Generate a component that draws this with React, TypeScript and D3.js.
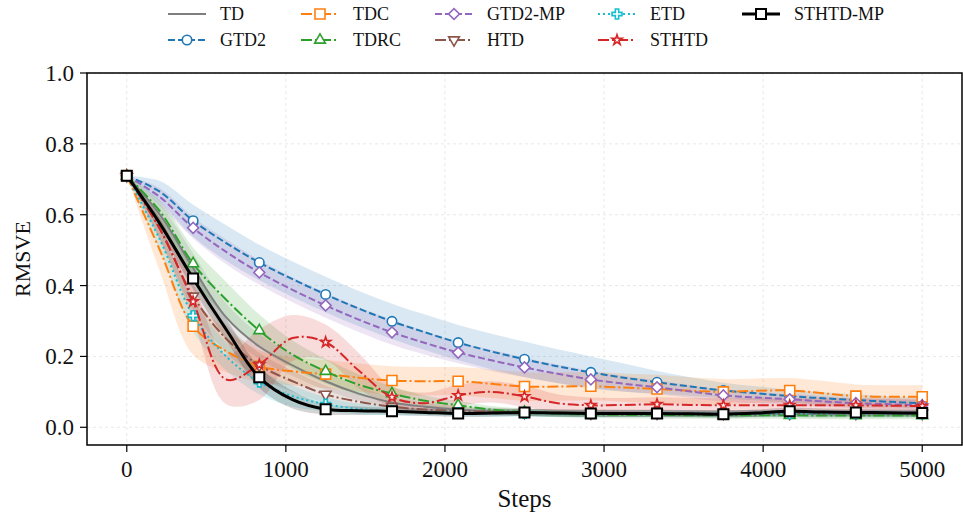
import * as d3 from "d3";

// steps where the curves were sampled (markers sit on every second one)
const STEPS = [0, 208, 417, 625, 833, 1042, 1250, 1458, 1667, 1875, 2083, 2292, 2500, 2708, 2917, 3125, 3333, 3542, 3750, 3958, 4167, 4375, 4583, 4792, 5000];

const TD = [0.71, 0.6, 0.45, 0.31, 0.228, 0.175, 0.13, 0.095, 0.07, 0.058, 0.05, 0.045, 0.042, 0.04, 0.04, 0.039, 0.039, 0.038, 0.038, 0.038, 0.038, 0.037, 0.037, 0.037, 0.037];
const TD_STD = [0, 0.03, 0.04, 0.04, 0.035, 0.03, 0.025, 0.02, 0.015, 0.012, 0.01, 0.01, 0.01, 0.01, 0.01, 0.01, 0.01, 0.01, 0.01, 0.01, 0.01, 0.01, 0.01, 0.01, 0.01];

const GTD2 = [0.71, 0.665, 0.583, 0.52, 0.465, 0.418, 0.375, 0.335, 0.299, 0.268, 0.239, 0.214, 0.192, 0.172, 0.155, 0.14, 0.127, 0.115, 0.104, 0.096, 0.088, 0.082, 0.077, 0.072, 0.068];
const GTD2_STD = [0, 0.03, 0.045, 0.05, 0.05, 0.05, 0.05, 0.05, 0.05, 0.05, 0.05, 0.05, 0.05, 0.048, 0.045, 0.04, 0.032, 0.026, 0.022, 0.02, 0.018, 0.017, 0.016, 0.015, 0.015];

const TDC = [0.71, 0.5, 0.285, 0.215, 0.172, 0.158, 0.15, 0.14, 0.132, 0.13, 0.13, 0.123, 0.115, 0.115, 0.116, 0.112, 0.108, 0.103, 0.1, 0.103, 0.104, 0.096, 0.088, 0.086, 0.086];
const TDC_STD = [0, 0.06, 0.08, 0.06, 0.045, 0.04, 0.04, 0.04, 0.04, 0.04, 0.04, 0.04, 0.04, 0.04, 0.04, 0.04, 0.04, 0.038, 0.036, 0.035, 0.035, 0.035, 0.033, 0.033, 0.033];

const TDRC = [0.71, 0.61, 0.462, 0.36, 0.273, 0.205, 0.158, 0.12, 0.095, 0.075, 0.062, 0.05, 0.043, 0.038, 0.036, 0.035, 0.035, 0.034, 0.034, 0.034, 0.034, 0.033, 0.033, 0.033, 0.033];
const TDRC_STD = [0, 0.03, 0.045, 0.05, 0.045, 0.04, 0.035, 0.03, 0.02, 0.015, 0.012, 0.01, 0.01, 0.01, 0.01, 0.01, 0.01, 0.01, 0.01, 0.01, 0.01, 0.01, 0.01, 0.01, 0.01];

const GTD2_MP = [0.71, 0.65, 0.563, 0.495, 0.437, 0.388, 0.344, 0.304, 0.268, 0.238, 0.211, 0.189, 0.169, 0.151, 0.135, 0.123, 0.113, 0.101, 0.09, 0.084, 0.079, 0.073, 0.068, 0.065, 0.062];
const GTD2_MP_STD = [0, 0.025, 0.03, 0.035, 0.035, 0.035, 0.035, 0.035, 0.035, 0.033, 0.03, 0.03, 0.028, 0.026, 0.024, 0.022, 0.02, 0.018, 0.017, 0.016, 0.015, 0.015, 0.014, 0.014, 0.014];

const HTD = [0.71, 0.56, 0.37, 0.25, 0.175, 0.13, 0.093, 0.072, 0.058, 0.05, 0.046, 0.044, 0.042, 0.041, 0.04, 0.04, 0.04, 0.039, 0.039, 0.039, 0.039, 0.039, 0.039, 0.039, 0.039];
const HTD_STD = [0, 0.03, 0.04, 0.04, 0.035, 0.03, 0.025, 0.02, 0.015, 0.012, 0.01, 0.01, 0.01, 0.01, 0.01, 0.01, 0.01, 0.01, 0.01, 0.01, 0.01, 0.01, 0.01, 0.01, 0.01];

const ETD = [0.71, 0.53, 0.315, 0.2, 0.128, 0.088, 0.065, 0.052, 0.046, 0.043, 0.041, 0.04, 0.04, 0.039, 0.039, 0.039, 0.039, 0.039, 0.039, 0.039, 0.039, 0.039, 0.039, 0.039, 0.039];
const ETD_STD = [0, 0.03, 0.045, 0.04, 0.035, 0.03, 0.02, 0.015, 0.012, 0.01, 0.01, 0.01, 0.01, 0.01, 0.01, 0.01, 0.01, 0.01, 0.01, 0.01, 0.01, 0.01, 0.01, 0.01, 0.01];

const STHTD = [0.71, 0.56, 0.355, 0.135, 0.177, 0.252, 0.24, 0.16, 0.085, 0.068, 0.09, 0.1, 0.087, 0.068, 0.062, 0.063, 0.065, 0.063, 0.062, 0.062, 0.062, 0.062, 0.062, 0.061, 0.06];
const STHTD_STD = [0, 0.03, 0.05, 0.07, 0.1, 0.065, 0.05, 0.05, 0.03, 0.03, 0.03, 0.03, 0.03, 0.025, 0.022, 0.02, 0.02, 0.02, 0.02, 0.02, 0.02, 0.02, 0.02, 0.02, 0.02];

const STHTD_MP = [0.71, 0.575, 0.42, 0.276, 0.141, 0.078, 0.051, 0.047, 0.045, 0.042, 0.039, 0.04, 0.042, 0.04, 0.039, 0.039, 0.039, 0.038, 0.037, 0.04, 0.045, 0.043, 0.042, 0.041, 0.04];
const STHTD_MP_STD = [0, 0.02, 0.03, 0.03, 0.03, 0.025, 0.015, 0.012, 0.01, 0.01, 0.01, 0.01, 0.01, 0.01, 0.01, 0.01, 0.01, 0.01, 0.01, 0.01, 0.01, 0.01, 0.01, 0.01, 0.01];

const X_TICKS = [0, 1000, 2000, 3000, 4000, 5000];
const Y_TICKS = [0, 0.2, 0.4, 0.6, 0.8, 1.0];

const series = [
  { name: "TD", mean: TD, std: TD_STD, color: "#7f7f7f", dash: "", marker: "none", lw: 2 },
  { name: "GTD2", mean: GTD2, std: GTD2_STD, color: "#1f77b4", dash: "7,3", marker: "circle", lw: 2 },
  { name: "TDC", mean: TDC, std: TDC_STD, color: "#ff7f0e", dash: "11,3,2,3", marker: "square", lw: 2 },
  { name: "TDRC", mean: TDRC, std: TDRC_STD, color: "#2ca02c", dash: "11,3,2,3", marker: "triangle", lw: 2 },
  { name: "GTD2-MP", mean: GTD2_MP, std: GTD2_MP_STD, color: "#9467bd", dash: "7,3", marker: "diamond", lw: 2 },
  { name: "HTD", mean: HTD, std: HTD_STD, color: "#8c564b", dash: "11,3,2,3", marker: "tri-down", lw: 2 },
  { name: "ETD", mean: ETD, std: ETD_STD, color: "#17becf", dash: "2,3", marker: "plus", lw: 2 },
  { name: "STHTD", mean: STHTD, std: STHTD_STD, color: "#d62728", dash: "11,3,2,3", marker: "star", lw: 2 },
  { name: "STHTD-MP", mean: STHTD_MP, std: STHTD_MP_STD, color: "#000000", dash: "", marker: "square", lw: 3 },
];

const W = 963;
const H = 518;
const m = { left: 87, right: 962, top: 73, bottom: 445 };
const FONT = "Liberation Serif, Tinos, Times New Roman, serif";

const x = d3.scaleLinear().domain([-250, 5250]).range([m.left, m.right]);
const y = d3.scaleLinear().domain([-0.05, 1.0]).range([m.bottom, m.top]);

function symbolPath(kind: string) {
  if (kind === "circle") return d3.symbol().type(d3.symbolCircle).size(70)();
  if (kind === "square") return d3.symbol().type(d3.symbolSquare).size(100)();
  if (kind === "triangle" || kind === "tri-down") return d3.symbol().type(d3.symbolTriangle).size(50)();
  if (kind === "diamond") return d3.symbol().type(d3.symbolSquare).size(60)();
  if (kind === "plus") return d3.symbol().type(d3.symbolCross).size(55)();
  if (kind === "star") return d3.symbol().type(d3.symbolStar).size(32)();
  return "";
}

function rot(kind: string) {
  if (kind === "diamond") return " rotate(45)";
  if (kind === "tri-down") return " rotate(180)";
  return "";
}

function Marker({ kind, cx, cy, color, bold }: any) {
  if (kind === "none") return null;
  return (
    <path
      d={symbolPath(kind) || ""}
      transform={`translate(${cx},${cy})${rot(kind)}`}
      fill="white"
      stroke={color}
      strokeWidth={bold ? 2 : 1.6}
    />
  );
}

export default function App() {
  const line = d3
    .line<number>()
    .x((_, i) => x(STEPS[i]))
    .y((d) => y(d))
    .curve(d3.curveCatmullRom.alpha(0.5));

  const band = (s: any) =>
    d3
      .area<number>()
      .x((_, i) => x(STEPS[i]))
      .y0((d, i) => y(d - s.std[i]))
      .y1((d, i) => y(d + s.std[i]))
      .curve(d3.curveCatmullRom.alpha(0.5))(s.mean) || "";

  const legendCols = [168, 301, 435, 598, 742];
  const legendRows = [14, 40];

  return (
    <svg
      width={W}
      height={H}
      style={{ position: "absolute", left: 0, top: 0, background: "white", fontFamily: FONT }}
    >
      <defs>
        <clipPath id="plot">
          <rect x={m.left} y={m.top} width={m.right - m.left} height={m.bottom - m.top} />
        </clipPath>
      </defs>

      {/* grid */}
      <g stroke="#e2e2e2" strokeWidth={0.8} strokeDasharray="3,3">
        {X_TICKS.map((t) => (
          <line key={t} x1={x(t)} x2={x(t)} y1={m.top} y2={m.bottom} />
        ))}
        {Y_TICKS.map((t) => (
          <line key={t} x1={m.left} x2={m.right} y1={y(t)} y2={y(t)} />
        ))}
      </g>

      <g clipPath="url(#plot)">
        {series.map((s) => (
          <path key={s.name + "-band"} d={band(s)} fill={s.color} fillOpacity={0.17} stroke="none" />
        ))}
        {series.map((s) => (
          <g key={s.name}>
            <path
              d={line(s.mean) || ""}
              fill="none"
              stroke={s.color}
              strokeWidth={s.lw}
              strokeDasharray={s.dash || undefined}
            />
            {s.mean.map((v, i) =>
              i % 2 === 0 ? (
                <Marker key={i} kind={s.marker} cx={x(STEPS[i])} cy={y(v)} color={s.color} bold={s.lw > 2} />
              ) : null
            )}
          </g>
        ))}
      </g>

      {/* frame */}
      <rect
        x={m.left}
        y={m.top}
        width={m.right - m.left}
        height={m.bottom - m.top}
        fill="none"
        stroke="black"
        strokeWidth={1.5}
      />

      {/* x axis */}
      {X_TICKS.map((t) => (
        <g key={t} transform={`translate(${x(t)},${m.bottom})`}>
          <line y1={0} y2={7} stroke="black" strokeWidth={1.2} />
          <text y={32} textAnchor="middle" fontSize={23} fill="#111">
            {t}
          </text>
        </g>
      ))}
      <text x={(m.left + m.right) / 2} y={507} textAnchor="middle" fontSize={25} fill="#111">
        Steps
      </text>

      {/* y axis */}
      {Y_TICKS.map((t) => (
        <g key={t} transform={`translate(${m.left},${y(t)})`}>
          <line x1={0} x2={-7} stroke="black" strokeWidth={1.2} />
          <text x={-13} dy="0.35em" textAnchor="end" fontSize={23} fill="#111">
            {t.toFixed(1)}
          </text>
        </g>
      ))}
      <text
        transform={`translate(30,${(m.top + m.bottom) / 2}) rotate(-90)`}
        textAnchor="middle"
        fontSize={22}
        fill="#111"
      >
        RMSVE
      </text>

      {/* legend, column-major */}
      {series.map((s, i) => {
        const cx = legendCols[Math.floor(i / 2)];
        const cy = legendRows[i % 2];
        return (
          <g key={s.name + "-leg"}>
            <line
              x1={cx}
              x2={cx + 38}
              y1={cy}
              y2={cy}
              stroke={s.color}
              strokeWidth={s.lw}
              strokeDasharray={s.dash || undefined}
            />
            <Marker kind={s.marker} cx={cx + 19} cy={cy} color={s.color} bold={s.lw > 2} />
            <text x={cx + 52} y={cy} dy="0.35em" fontSize={18} fill="#111">
              {s.name}
            </text>
          </g>
        );
      })}
    </svg>
  );
}
